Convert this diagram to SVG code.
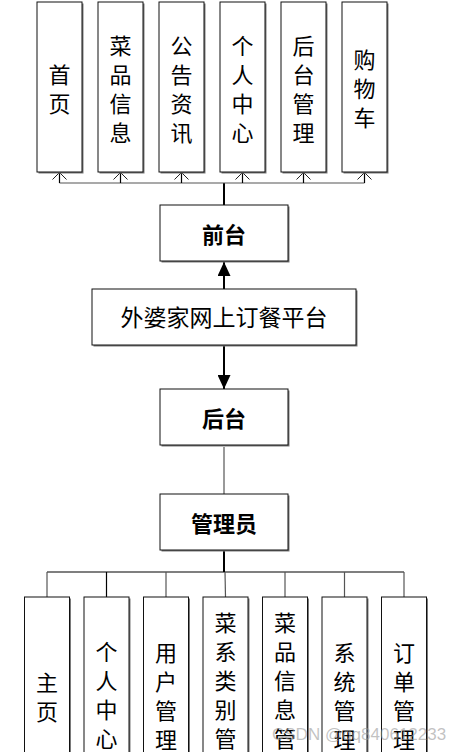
<svg xmlns="http://www.w3.org/2000/svg" width="457" height="752" viewBox="0 0 457 752">
<style>
.box{fill:#fff;stroke:#111;stroke-width:1}
.sh{fill:#7a7a7a}
.t{font-family:"Noto Sans CJK SC","Liberation Sans",sans-serif;font-size:22px;fill:#000;text-anchor:middle;dominant-baseline:central}
.b{font-weight:bold}
.c{fill:none;stroke:#000;stroke-width:1.2}
.g{fill:none;stroke:#555;stroke-width:1.2}
.k{fill:none;stroke:#000;stroke-width:2}
.wm{font-family:"Liberation Sans",sans-serif;font-size:17px;fill:#999;fill-opacity:0.6}
</style>
<defs>
<marker id="open" viewBox="0 0 16 9" refX="8" refY="1" markerWidth="16" markerHeight="9" markerUnits="userSpaceOnUse" orient="0">
<polyline points="1,8 8,1 15,8" fill="none" stroke="#222" stroke-width="1"/>
</marker>
<marker id="fill" viewBox="0 0 13 14" refX="6.5" refY="0" markerWidth="13" markerHeight="14" markerUnits="userSpaceOnUse" orient="0">
<polygon points="6.5,0 0,14 13,14" fill="#000"/>
</marker>
<marker id="filld" viewBox="0 0 13 14" refX="6.5" refY="14" markerWidth="13" markerHeight="14" markerUnits="userSpaceOnUse" orient="0">
<polygon points="0,0 13,0 6.5,14" fill="#000"/>
</marker>
</defs>
<g id="connectors">
<line class="k" x1="224" y1="205" x2="224" y2="183"/>
<line class="g" x1="59.5" y1="183" x2="364.5" y2="183"/>
<line class="c" x1="59.5" y1="183" x2="59.5" y2="172.5" marker-end="url(#open)"/>
<line class="c" x1="120.5" y1="183" x2="120.5" y2="172.5" marker-end="url(#open)"/>
<line class="c" x1="181.5" y1="183" x2="181.5" y2="172.5" marker-end="url(#open)"/>
<line class="c" x1="242.5" y1="183" x2="242.5" y2="172.5" marker-end="url(#open)"/>
<line class="c" x1="303.5" y1="183" x2="303.5" y2="172.5" marker-end="url(#open)"/>
<line class="c" x1="364.5" y1="183" x2="364.5" y2="172.5" marker-end="url(#open)"/>
<line class="k" x1="224" y1="289" x2="224" y2="262" marker-end="url(#fill)"/>
<line class="k" x1="224" y1="345" x2="224" y2="389" marker-end="url(#filld)"/>
<line class="g" x1="224" y1="447" x2="224" y2="494"/>
<line class="k" x1="224" y1="551" x2="224" y2="572"/>
<line class="c" x1="47" y1="572" x2="404" y2="572"/>
<line class="g" x1="47" y1="572" x2="47" y2="597"/>
<line class="c" x1="106.5" y1="572" x2="106.5" y2="597"/>
<line class="g" x1="166" y1="572" x2="166" y2="597"/>
<line class="g" x1="225" y1="572" x2="225.5" y2="597"/>
<line class="g" x1="285" y1="572" x2="285" y2="597"/>
<line class="g" x1="344.5" y1="572" x2="344.5" y2="597"/>
<line class="g" x1="404" y1="572" x2="404" y2="597"/>
</g>
<g id="n-shouye"><rect class="sh" x="38.5" y="3.5" width="45" height="170"/><rect class="box" x="37" y="2" width="45" height="170"/><text class="t" x="59.5"><tspan x="59.5" y="72.5">首</tspan><tspan x="59.5" y="101.5">页</tspan></text></g>
<g id="n-caipin"><rect class="sh" x="99.5" y="3.5" width="45" height="170"/><rect class="box" x="98" y="2" width="45" height="170"/><text class="t"><tspan x="120.5" y="43.5">菜</tspan><tspan x="120.5" y="72.5">品</tspan><tspan x="120.5" y="101.5">信</tspan><tspan x="120.5" y="130.5">息</tspan></text></g>
<g id="n-gonggao"><rect class="sh" x="160.5" y="3.5" width="45" height="170"/><rect class="box" x="159" y="2" width="45" height="170"/><text class="t"><tspan x="181.5" y="43.5">公</tspan><tspan x="181.5" y="72.5">告</tspan><tspan x="181.5" y="101.5">资</tspan><tspan x="181.5" y="130.5">讯</tspan></text></g>
<g id="n-geren"><rect class="sh" x="221.5" y="3.5" width="45" height="170"/><rect class="box" x="220" y="2" width="45" height="170"/><text class="t"><tspan x="242.5" y="43.5">个</tspan><tspan x="242.5" y="72.5">人</tspan><tspan x="242.5" y="101.5">中</tspan><tspan x="242.5" y="130.5">心</tspan></text></g>
<g id="n-houtaiguanli"><rect class="sh" x="282.5" y="3.5" width="45" height="170"/><rect class="box" x="281" y="2" width="45" height="170"/><text class="t"><tspan x="303.5" y="43.5">后</tspan><tspan x="303.5" y="72.5">台</tspan><tspan x="303.5" y="101.5">管</tspan><tspan x="303.5" y="130.5">理</tspan></text></g>
<g id="n-gouwuche"><rect class="sh" x="343.5" y="3.5" width="45" height="170"/><rect class="box" x="342" y="2" width="45" height="170"/><text class="t"><tspan x="364.5" y="58">购</tspan><tspan x="364.5" y="87">物</tspan><tspan x="364.5" y="116">车</tspan></text></g>
<g id="n-qiantai"><rect class="sh" x="161.5" y="206.5" width="128" height="56"/><rect class="box" x="160" y="205" width="128" height="56"/><text class="t b" x="224" y="233">前台</text></g>
<g id="n-platform"><rect class="sh" x="93.5" y="290.5" width="264" height="56"/><rect class="box" x="92" y="289" width="264" height="56"/><text class="t" x="224" y="316" style="font-size:23px">外婆家网上订餐平台</text></g>
<g id="n-houtai"><rect class="sh" x="161.5" y="390.5" width="128" height="56"/><rect class="box" x="160" y="389" width="128" height="56"/><text class="t b" x="224" y="417">后台</text></g>
<g id="n-admin"><rect class="sh" x="161.5" y="495.5" width="128" height="56"/><rect class="box" x="160" y="494" width="128" height="56"/><text class="t b" x="224" y="522">管理员</text></g>
<g id="n-zhuye"><rect class="sh" x="26" y="598.5" width="45" height="200"/><rect class="box" x="24.5" y="597" width="45" height="200"/><text class="t"><tspan x="47" y="681">主</tspan><tspan x="47" y="710">页</tspan></text></g>
<g id="n-gerenzx"><rect class="sh" x="85.5" y="598.5" width="45" height="200"/><rect class="box" x="84" y="597" width="45" height="200"/><text class="t"><tspan x="106.5" y="650">个</tspan><tspan x="106.5" y="679">人</tspan><tspan x="106.5" y="708">中</tspan><tspan x="106.5" y="737">心</tspan></text></g>
<g id="n-yonghu"><rect class="sh" x="145" y="598.5" width="45" height="200"/><rect class="box" x="143.5" y="597" width="45" height="200"/><text class="t"><tspan x="166" y="651">用</tspan><tspan x="166" y="680">户</tspan><tspan x="166" y="709">管</tspan><tspan x="166" y="738">理</tspan></text></g>
<g id="n-caixi"><rect class="sh" x="204.5" y="598.5" width="45" height="200"/><rect class="box" x="203" y="597" width="45" height="200"/><text class="t"><tspan x="225.5" y="621">菜</tspan><tspan x="225.5" y="650">系</tspan><tspan x="225.5" y="679">类</tspan><tspan x="225.5" y="708">别</tspan><tspan x="225.5" y="737">管</tspan><tspan x="225.5" y="766">理</tspan></text></g>
<g id="n-caipinxx"><rect class="sh" x="264" y="598.5" width="45" height="200"/><rect class="box" x="262.5" y="597" width="45" height="200"/><text class="t"><tspan x="285" y="621">菜</tspan><tspan x="285" y="650">品</tspan><tspan x="285" y="679">信</tspan><tspan x="285" y="708">息</tspan><tspan x="285" y="737">管</tspan><tspan x="285" y="766">理</tspan></text></g>
<g id="n-xitong"><rect class="sh" x="323.5" y="598.5" width="45" height="200"/><rect class="box" x="322" y="597" width="45" height="200"/><text class="t"><tspan x="344.5" y="651">系</tspan><tspan x="344.5" y="680">统</tspan><tspan x="344.5" y="709">管</tspan><tspan x="344.5" y="738">理</tspan></text></g>
<g id="n-dingdan"><rect class="sh" x="383" y="598.5" width="45" height="200"/><rect class="box" x="381.5" y="597" width="45" height="200"/><text class="t"><tspan x="404" y="651">订</tspan><tspan x="404" y="680">单</tspan><tspan x="404" y="709">管</tspan><tspan x="404" y="738">理</tspan></text></g>
<text class="wm" x="272" y="740">CSDN @qq840612233</text>
</svg>
